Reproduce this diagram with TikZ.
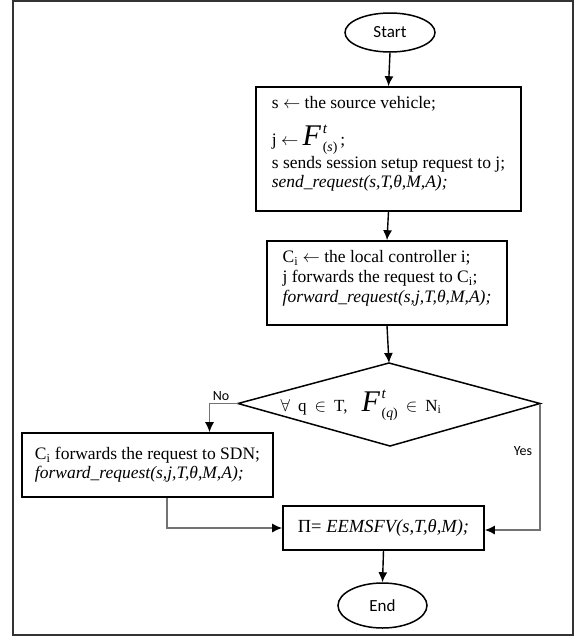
\documentclass[tikz,border=0pt]{standalone}
\usepackage{fontspec}
\setmainfont{Liberation Serif}
\newfontfamily\labelfont{Carlito}
\usetikzlibrary{arrows.meta,calc,shapes.geometric}

% large italic F with superscript t and a parenthesised subscript
\newcommand\Fsym[2]{{\fontsize{#1}{#1}\selectfont\textit{F}}\kern1.5pt%
  \rlap{\raisebox{0.42\dimexpr#1pt\relax}{\fontsize{0.5\dimexpr#1pt\relax}{1pt}\selectfont\textit{t}}}%
  \raisebox{-0.2\dimexpr#1pt\relax}{\fontsize{0.46\dimexpr#1pt\relax}{1pt}\selectfont(\textit{#2})}}
% invisible strut that deepens a line
\newcommand\deepen[1]{\rule[-#1]{0pt}{#1}}

\begin{document}
\begin{tikzpicture}[x=1pt,y=-1pt,
  box/.style={draw=black,line width=1.6pt,inner xsep=0pt,inner ysep=0pt,
    align=left,font=\fontsize{17.5}{20}\selectfont},
  term/.style={draw=black,line width=1.5pt,ellipse,inner sep=0pt,
    minimum width=90pt,minimum height=39pt,font=\labelfont\fontsize{17}{18}\selectfont},
  flow/.style={line width=1.4pt,draw=black,-{Latex[length=10pt,width=9pt,color=black]}},
  flowgray/.style={line width=1.4pt,draw=black!55,-{Latex[length=10pt,width=9pt,color=black]}},
  branch/.style={font=\labelfont\fontsize{14}{15}\selectfont,inner sep=1pt},
]
\useasboundingbox (0,0) rectangle (574,638);
% outer frame
\draw[line width=2.2pt,draw=black!80] (13,1.2) rectangle (572.8,635);

% terminals
\node[term] (start) at (390,32.5) {Start};
\node[term,minimum width=89pt,minimum height=45pt] (end) at (382.5,605.5) {End};

% process boxes
\node[box,minimum width=265pt,minimum height=124pt,font=\fontsize{17.5}{18}\selectfont]
  (req) at (388.5,149)
  {s $\leftarrow$ the source vehicle;\\[13pt]
   j $\leftarrow$ \Fsym{30}{s}\,;\\[1pt]
   s sends session setup request to j;\\[1pt]
   \textit{send\_request(s,T,θ,M,A);}\deepen{14pt}};

\node[box,minimum width=240pt,minimum height=84pt] (fwd) at (387,283)
  {C\textsubscript{i} $\leftarrow$ the local controller i;\\
   j forwards the request to C\textsubscript{i};\\
   \textit{forward\_request(s,j,T,θ,M,A);}\deepen{13pt}};

\node[box,minimum width=251pt,minimum height=64pt,font=\fontsize{17.5}{19}\selectfont]
  (sdn) at (147.5,465)
  {C\textsubscript{i} forwards the request to SDN;\\
   \textit{forward\_request(s,j,T,θ,M,A);}};

\node[box,align=center,minimum width=201pt,minimum height=44pt,
  font=\fontsize{18.5}{20}\selectfont] (calc) at (383.5,528)
  {Π= \textit{EEMSFV(s,T,θ,M);}};

% decision
\coordinate (dT) at (389,363);
\coordinate (dR) at (540,403.5);
\coordinate (dB) at (390,446);
\coordinate (dL) at (238,403.5);
\draw[line width=1.5pt,line join=miter] (dT) -- (dR) -- (dB) -- (dL) -- cycle;
\node[font=\fontsize{17}{17}\selectfont,inner sep=0pt] (cond) at (361,405)
  {$\forall$\hspace{8pt}q\hspace{8pt}$\in$\hspace{8pt}T,\hspace{14pt}\Fsym{30}{q}\hspace{8pt}$\in$\hspace{8pt}N\textsubscript{i}};

% connectors
\draw[flow] (start.south) -- (req.north);
\draw[flow] (req.south) -- (fwd.north);
\draw[flow] (fwd.south) -- (dT);
\coordinate (nobend) at (209.5,403.5);
\draw[flowgray] (dL) -- (nobend) -- (nobend |- sdn.north);
\node[branch,anchor=south] (nolab) at (221,402) {No};
\coordinate (sdnout) at ($(sdn.south)+(19.5,0)$);
\draw[flowgray] (sdnout) |- (calc.west);
\draw[flowgray] (dR) |- ($(calc.east)+(0,2)$);
\node[branch] (yeslab) at (523,451) {Yes};
\draw[flow] (calc.south) -- (end.north);
\end{tikzpicture}
\end{document}
